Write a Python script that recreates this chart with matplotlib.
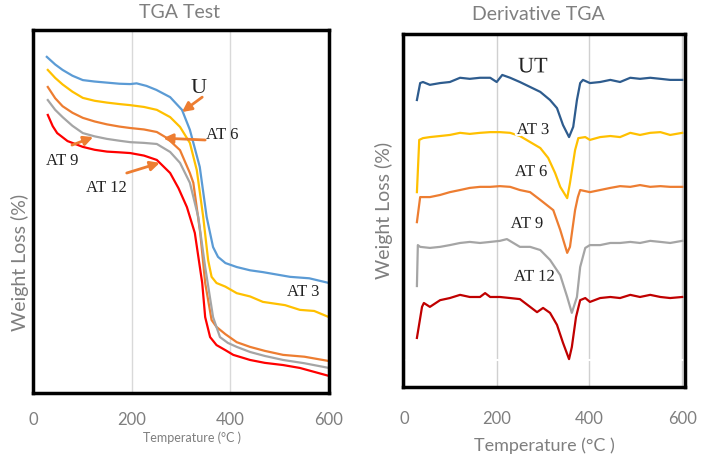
import numpy as np
import matplotlib
matplotlib.use("Agg")
import matplotlib.pyplot as plt
import matplotlib.patheffects as pe

# TGA 곡선 (온도, 무게) - 그림에서 읽은 값
u_t = [28, 45, 60, 80, 101, 125, 150, 175, 197, 210, 230, 250, 278, 302, 318, 338, 352, 365, 375, 390, 413, 440, 466, 521, 560, 600]
u_w = [92.6, 90.5, 89.0, 87.4, 86.2, 85.8, 85.5, 85.2, 85.1, 85.3, 84.6, 83.5, 81.5, 78.0, 72.5, 62.3, 48.5, 40.2, 37.5, 35.8, 34.7, 33.8, 33.3, 32.0, 31.6, 30.3]

at3_t = [30, 45, 60, 80, 101, 125, 150, 175, 197, 225, 251, 278, 298, 318, 332, 345, 355, 362, 372, 390, 413, 440, 466, 511, 541, 570, 600]
at3_w = [89.0, 86.8, 85.0, 83.0, 81.3, 80.5, 80.0, 79.6, 79.3, 78.8, 78.0, 76.0, 73.3, 68.9, 61.4, 48.5, 36.6, 32.0, 30.3, 29.3, 27.5, 26.6, 25.1, 24.2, 22.9, 22.6, 20.9]

at6_t = [30, 45, 60, 80, 101, 125, 150, 175, 197, 225, 251, 272, 298, 318, 325, 339, 349, 362, 372, 390, 413, 440, 470, 507, 550, 600]
at6_w = [84.3, 81.2, 79.0, 77.2, 75.8, 74.8, 74.0, 73.4, 73.0, 72.6, 71.9, 70.2, 66.9, 60.6, 57.9, 44.1, 30.3, 20.1, 18.2, 16.2, 14.0, 12.7, 11.6, 10.5, 10.0, 8.8]

at9_t = [30, 45, 60, 80, 101, 125, 150, 175, 197, 225, 251, 278, 298, 318, 335, 349, 365, 379, 395, 413, 440, 470, 507, 550, 600]
at9_w = [80.7, 78.0, 76.0, 73.6, 71.6, 70.7, 70.0, 69.5, 69.1, 68.9, 68.6, 66.4, 63.4, 57.9, 48.5, 34.7, 20.9, 15.4, 13.8, 12.7, 11.3, 10.2, 9.1, 8.2, 6.9]

at12_t = [30, 40, 49, 70, 101, 125, 150, 175, 197, 225, 251, 278, 295, 312, 328, 343, 349, 359, 372, 390, 406, 440, 470, 507, 541, 600]
at12_w = [76.6, 73.5, 71.6, 69.4, 67.8, 67.0, 66.5, 66.3, 66.1, 65.4, 64.2, 60.6, 56.4, 51.2, 44.1, 30.3, 20.9, 15.4, 13.2, 11.8, 10.5, 9.1, 8.3, 7.7, 6.9, 4.7]

# DTG 곡선 (온도, 값)
dut_t = [28, 35, 41, 56, 78, 99, 121, 142, 164, 186, 200, 212, 229, 250, 272, 294, 315, 330, 343, 356,
         365, 373, 380, 386, 401, 423, 445, 466, 488, 509, 531, 553, 574, 600]
dut_y = [81.3, 86.1, 86.4, 85.6, 86.1, 86.4, 87.6, 87.3, 87.6, 87.6, 86.4, 88.4, 87.6, 86.4, 85.0, 83.6, 81.3, 79.0, 74.2, 70.8,
         73.7, 81.3, 86.1, 87.0, 86.1, 86.4, 87.0, 86.4, 87.6, 87.3, 87.6, 87.3, 87.0, 87.0]

d3_t = [28, 33, 41, 56, 78, 99, 121, 142, 164, 186, 207, 229, 250, 272, 294, 311, 326, 337, 352, 358,
        369, 376, 391, 401, 423, 445, 466, 488, 509, 531, 553, 574, 600]
d3_y = [55.2, 70.0, 70.5, 70.8, 71.1, 71.4, 72.0, 71.7, 72.0, 72.2, 72.2, 72.0, 71.1, 69.4, 67.7, 64.9, 60.6, 56.7, 53.5, 57.8,
        67.1, 70.5, 70.8, 70.0, 70.8, 71.1, 70.8, 72.0, 71.4, 72.0, 72.2, 71.4, 72.0]

d6_t = [28, 35, 56, 78, 99, 121, 142, 164, 186, 207, 229, 250, 272, 294, 322, 337, 352, 358, 369, 375,
        380, 401, 423, 445, 466, 488, 509, 531, 553, 574, 600]
d6_y = [46.7, 53.8, 53.8, 54.4, 55.2, 55.8, 56.4, 56.7, 56.7, 56.9, 56.7, 55.8, 55.2, 53.0, 50.1, 44.5, 38.0, 39.7, 50.1, 53.8,
        55.8, 55.2, 55.8, 56.4, 56.9, 56.7, 57.2, 56.7, 56.9, 56.7, 56.7]

d9_t = [28, 30, 35, 56, 78, 99, 121, 142, 164, 186, 207, 222, 250, 272, 294, 315, 337, 352, 362, 373,
        380, 391, 401, 423, 445, 466, 488, 509, 531, 553, 574, 600]
d9_y = [28.6, 40.2, 39.7, 39.4, 39.7, 40.2, 40.8, 41.1, 40.8, 41.1, 41.4, 41.9, 39.7, 39.7, 38.8, 36.0, 31.7, 25.5, 21.0, 25.5,
        34.0, 39.4, 40.2, 40.2, 40.8, 40.8, 41.1, 40.8, 41.4, 41.1, 40.8, 41.4]

d12_t = [28, 39, 43, 56, 78, 99, 121, 142, 164, 175, 186, 207, 229, 250, 272, 287, 300, 315, 330, 343,
         356, 362, 371, 380, 391, 401, 423, 445, 466, 488, 509, 531, 553, 574, 600]
d12_y = [13.9, 22.7, 23.8, 22.7, 24.6, 25.2, 26.1, 25.5, 25.5, 26.6, 25.5, 25.5, 25.2, 24.9, 22.7, 21.2, 22.4, 21.0, 17.6, 12.5,
         7.9, 11.3, 19.8, 24.6, 25.2, 24.1, 25.2, 25.5, 25.2, 26.1, 25.5, 26.1, 25.5, 25.2, 25.5]

xticks = [0, 200, 400, 600]

plt.rcParams['font.family'] = ['Lato', 'DejaVu Sans']
grey_txt = '#7F7F7F'
arrow_c = '#ED7D31'
serif = 'Liberation Serif'

fig = plt.figure(figsize=(7.02, 4.59), dpi=100)

# 왼쪽 그래프: TGA Test
ax1 = fig.add_axes([33/702, 66/459, 296/702, 363/459])
ax1.plot(u_t, u_w, color='#5B9BD5', lw=1.6)
ax1.plot(at3_t, at3_w, color='#FFC000', lw=1.6)
ax1.plot(at6_t, at6_w, color='#ED7D31', lw=1.6)
ax1.plot(at9_t, at9_w, color='#A5A5A5', lw=1.6)
ax1.plot(at12_t, at12_w, color='#FF0000', lw=1.6)
ax1.set_xlim(0, 600)
ax1.set_ylim(0, 100)
ax1.set_xticks(xticks)
ax1.set_yticks([])
ax1.grid(axis='x', color='#D9D9D9', lw=1)
ax1.set_axisbelow(True)
ax1.tick_params(axis='x', length=0, pad=14, labelsize=12, labelcolor=grey_txt)
ax1.set_xlabel('Temperature (°C )', fontsize=9, color=grey_txt)
ax1.xaxis.set_label_coords(0.537, -0.107)
ax1.set_ylabel('Weight Loss (%)', fontsize=14, color=grey_txt)
ax1.yaxis.set_label_coords(-0.013, 0.36)
for s in ax1.spines.values():
    s.set_linewidth(2.5)
    s.set_color('black')

# 화살표 + 라벨
arr = dict(arrowstyle='-|>', color=arrow_c, lw=2, mutation_scale=14, shrinkA=0, shrinkB=0)
ax1.annotate('', xy=(302, 77.4), xytext=(343, 81.5), arrowprops=arr)
ax1.annotate('', xy=(264, 70.2), xytext=(349, 69.7), arrowprops=arr)
ax1.annotate('', xy=(122, 70.5), xytext=(79, 68.3), arrowprops=arr)
ax1.annotate('', xy=(257, 63.4), xytext=(190, 60.6), arrowprops=arr)
ax1.text(336, 84, 'U', fontsize=16, family=serif, color='#222222', ha='center', va='center')
ax1.text(351, 71, 'AT 6', fontsize=12, family=serif, color='#222222', ha='left', va='center')
ax1.text(59, 64, 'AT 9', fontsize=12, family=serif, color='#222222', ha='center', va='center')
ax1.text(148, 56.5, 'AT 12', fontsize=12, family=serif, color='#222222', ha='center', va='center')
ax1.text(548, 27.8, 'AT 3', fontsize=12, family=serif, color='#222222', ha='center', va='center')

# 오른쪽 그래프: Derivative TGA
ax2 = fig.add_axes([403/702, 72/459, 282/702, 353/459])
ax2.axhline(7.6, color='white', lw=1.5, zorder=1.5)
ax2.plot(dut_t, dut_y, color='#2E5C8E', lw=1.6)
ax2.plot(d3_t, d3_y, color='#FFC000', lw=1.6)
ax2.plot(d6_t, d6_y, color='#ED7D31', lw=1.6)
ax2.plot(d9_t, d9_y, color='#A5A5A5', lw=1.6)
ax2.plot(d12_t, d12_y, color='#C00000', lw=1.6)
ax2.set_xlim(-2, 606)
ax2.set_ylim(0, 100)
ax2.set_xticks(xticks)
ax2.set_yticks([])
ax2.grid(axis='x', color='#D0D0D0', lw=1)
ax2.set_axisbelow(True)
ax2.tick_params(axis='x', length=0, pad=17, labelsize=12, labelcolor=grey_txt)
ax2.set_xlabel('Temperature (°C )', fontsize=13, color=grey_txt)
ax2.xaxis.set_label_coords(0.5, -0.142)
ax2.set_ylabel('Weight Loss (%)', fontsize=14, color=grey_txt)
ax2.yaxis.set_label_coords(-0.035, 0.5)
for s in ax2.spines.values():
    s.set_linewidth(2.5)
    s.set_color('black')

glow = [pe.withStroke(linewidth=3, foreground='white')]
ax2.text(278, 90.4, 'UT', fontsize=16, family=serif, color='#222222', ha='center', va='center', path_effects=glow)
ax2.text(278, 72.8, 'AT 3', fontsize=12, family=serif, color='#222222', ha='center', va='center', path_effects=glow)
ax2.text(274, 60.9, 'AT 6', fontsize=12, family=serif, color='#222222', ha='center', va='center', path_effects=glow)
ax2.text(265, 46.2, 'AT 9', fontsize=12, family=serif, color='#222222', ha='center', va='center', path_effects=glow)
ax2.text(281, 31.2, 'AT 12', fontsize=12, family=serif, color='#222222', ha='center', va='center', path_effects=glow)

# 제목
fig.text(180/702, 1 - 13/459, 'TGA Test', fontsize=14, color=grey_txt, ha='center', va='center')
fig.text(538/702, 1 - 15/459, 'Derivative TGA', fontsize=14, color=grey_txt, ha='center', va='center')

fig.savefig('out.png', dpi=100)
